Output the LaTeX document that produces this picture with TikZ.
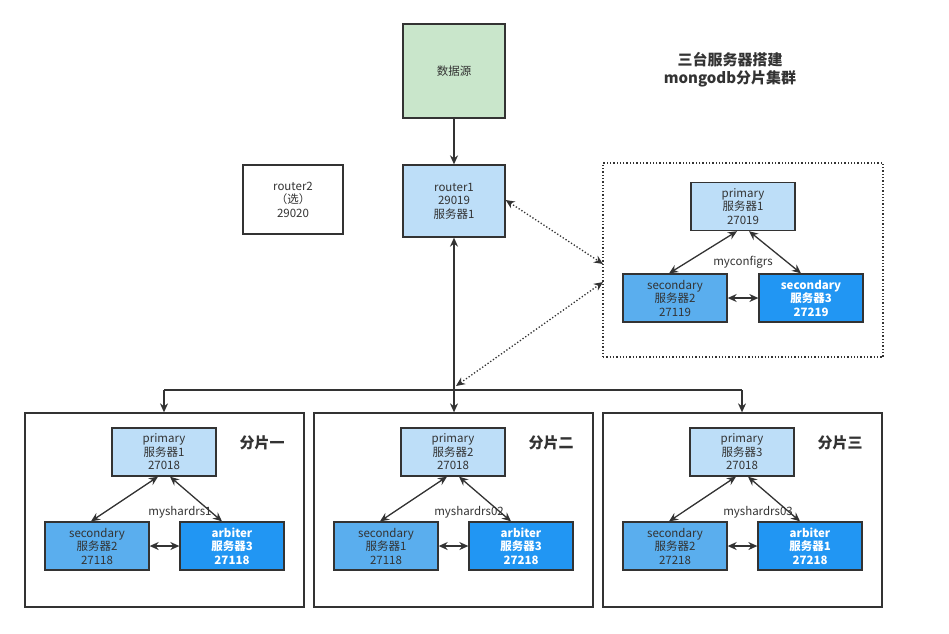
\documentclass[tikz,border=0pt]{standalone}
\usepackage{fontspec}
\setmainfont{Noto Sans CJK SC}
\usetikzlibrary{arrows.meta}
\definecolor{ln}{HTML}{333333}
\definecolor{lb}{HTML}{BDDEF8}
\definecolor{mb}{HTML}{5AAEEE}
\definecolor{db}{HTML}{2196F3}
\definecolor{gr}{HTML}{C9E6CB}
\begin{document}
\begin{tikzpicture}[x=1pt,y=-1pt,
 box/.style={draw=ln,line width=1.3pt,minimum width=104pt,minimum height=48pt,inner sep=0pt,align=center,font=\fontsize{11.5}{13.5}\selectfont,text=ln},
 pri/.style={box,fill=lb},
 sec/.style={box,fill=mb},
 arb/.style={box,fill=db,text=white,font=\fontsize{11.5}{13.5}\selectfont\bfseries},
 frame/.style={draw=ln,line width=1.3pt},
 ar/.style={draw=ln,line width=1.3pt,-{Stealth[length=9pt,width=8pt]}},
 dar/.style={draw=ln,line width=1.3pt,{Stealth[length=9pt,width=8pt]}-{Stealth[length=9pt,width=8pt]}},
 dot/.style={draw=ln,line width=1.3pt,dotted,{Stealth[length=9pt,width=8pt]}-{Stealth[length=9pt,width=8pt]}},
 lab/.style={font=\fontsize{11.5}{13.5}\selectfont,text=ln,fill=white,inner sep=1pt},
 big/.style={font=\fontsize{15}{18}\selectfont\bfseries,text=ln}]
\useasboundingbox (0,0) rectangle (949,633);
\node[box,fill=gr,minimum width=102pt,minimum height=94pt] (src) at (454,71) {数据源};
\node[big,align=center] (title) at (730,70) {三台服务器搭建\\mongodb分片集群};
\node[box,fill=white,minimum width=100pt,minimum height=69pt] (r2) at (293,199.5) {router2\\（选）\\29020};
\node[pri,minimum width=102pt,minimum height=72pt] (r1) at (454,201) {router1\\29019\\服务器1};
\draw[ar] (src) -- (r1);
% config
\node[draw=ln,line width=1.3pt,dotted,minimum width=280pt,minimum height=194pt,inner sep=0pt] (cfg) at (743,260) {};
\node[pri] (cp) at (743,206.5) {primary\\服务器1\\27019};
\node[sec] (cs2) at (675,298) {secondary\\服务器2\\27119};
\node[arb] (cs3) at (811,298) {secondary\\服务器3\\27219};
\node[lab] (cl) at (743,262) {myconfigrs};
\draw[dar] ([xshift=-6pt]cp.south) -- ([xshift=-6pt]cs2.north);
\draw[dar] ([xshift=6pt]cp.south) -- ([xshift=-10pt]cs3.north);
\draw[dar] (cs2) -- (cs3);
% bus
\coordinate (hub) at (454,390);
\coordinate (bl) at (164,390);
\coordinate (br) at (742,390);
\draw[ar] (hub) -- (r1);
\draw[line width=1.3pt,ln] (bl) -- (br);
\draw[dot] (r1.east |- 0,200) -- (603,264);
\draw[dot] (456,386) -- (603,282);
\foreach \i/\x/\p/\s/\a/\sp/\ss/\sa/\rs/\nm in {1/25/服务器1/服务器2/服务器3/27018/27118/27118/myshardrs1/分片一, 2/314/服务器2/服务器1/服务器3/27018/27118/27218/myshardrs02/分片二, 3/603/服务器3/服务器2/服务器1/27018/27218/27218/myshardrs03/分片三}{
 \node[draw=ln,line width=1.3pt,minimum width=279pt,minimum height=194pt,inner sep=0pt] (sh\i) at (\x+139.5,510) {};
 \node[pri] (p\i) at (\x+139,452) {primary\\\p\\\sp};
 \node[sec] (s\i) at (\x+72,546) {secondary\\\s\\\ss};
 \node[arb] (a\i) at (\x+207,546) {arbiter\\\a\\\sa};
 \node[lab] (l\i) at (\x+155,512) {\rs};
 \node[big] (n\i) at (\x+237,443) {\nm};
 \draw[dar] ([xshift=-6pt]p\i.south) -- ([xshift=-6pt]s\i.north);
 \draw[dar] ([xshift=6pt]p\i.south) -- ([xshift=-10pt]a\i.north);
 \draw[dar] (s\i) -- (a\i);
}
\draw[ar] (bl) -- (bl |- sh1.north);
\draw[ar] (hub) -- (hub |- sh2.north);
\draw[ar] (br) -- (br |- sh3.north);
\end{tikzpicture}
\end{document}
